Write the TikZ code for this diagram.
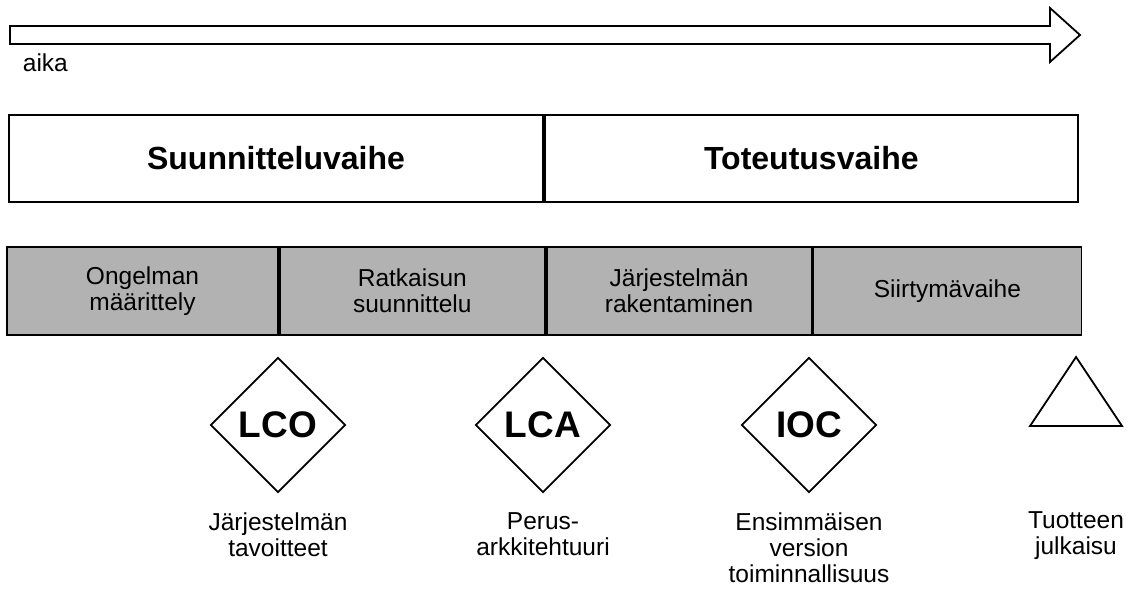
\documentclass[tikz,border=0pt]{standalone}
\usepackage{fontspec}
\setmainfont{Liberation Sans}
\usetikzlibrary{shapes.geometric,positioning}

\begin{document}
\begin{tikzpicture}[
  x=1pt, y=-1pt,
  line width=1.8pt,
  phase/.style={rectangle, draw, minimum height=87pt, font=\fontsize{32}{36}\selectfont\bfseries},
  work/.style={rectangle, draw, fill=black!30, minimum height=88pt, align=center, font=\fontsize{24.5}{26}\selectfont},
  gate/.style={diamond, draw, fill=white, minimum width=135pt, minimum height=135pt, inner sep=0pt, font=\fontsize{37}{40}\selectfont\bfseries},
  caption/.style={align=center, font=\fontsize{24.5}{26}\selectfont}
]
\useasboundingbox (0,0) rectangle (1135,599);

% time axis
\draw (10,26) -- (1050,26) -- (1050,8) -- (1080,35) -- (1050,62) -- (1050,44) -- (10,44) -- cycle;
\node[anchor=base west, inner sep=0pt, font=\fontsize{24.5}{26}\selectfont] (aika) at (22,72) {aika};

% phases
\node[phase, minimum width=534pt] (plan) at (276,158.5) {Suunnitteluvaihe};
\node[phase, minimum width=533pt, right=0pt of plan] (build) {Toteutusvaihe};

% workflows
\node[work, minimum width=271pt] (prob) at (142.5,291) {Ongelman\\määrittely};
\node[work, minimum width=265pt, right=0pt of prob] (sol) {Ratkaisun\\suunnittelu};
\node[work, minimum width=265pt, right=0pt of sol] (sys) {Järjestelmän\\rakentaminen};
\node[work, minimum width=268pt, right=0pt of sys] (trans) {Siirtymävaihe};

% milestones
\node[gate] (lco) at (278,425) {LCO};
\node[gate] (lca) at (543,425) {LCA};
\node[gate] (ioc) at (809,425) {IOC};
\coordinate (rel) at (1076,357);
\draw (rel) -- ++(46,69) -- ++(-92,0) -- cycle;
\coordinate (relbase) at (1076,492);

\node[caption, below=15pt of lco] (lcotxt) {Järjestelmän\\tavoitteet};
\node[caption, below=15pt of lca] (lcatxt) {Perus-\\arkkitehtuuri};
\node[caption, below=15pt of ioc] (ioctxt) {Ensimmäisen\\version\\toiminnallisuus};
\node[caption, below=15pt of relbase] (reltxt) {Tuotteen\\julkaisu};
\end{tikzpicture}
\end{document}
